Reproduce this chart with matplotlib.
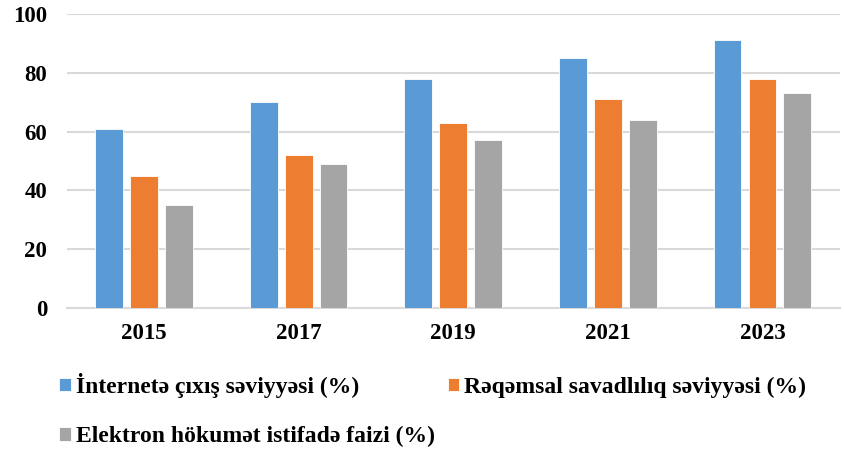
import matplotlib.pyplot as plt
import numpy as np

years = ["2015", "2017", "2019", "2021", "2023"]
internet = [61, 70, 78, 85, 91]
digital_literacy = [45, 52, 63, 71, 78]
egov = [35, 49, 57, 64, 73]
series_names = [
    "İnternetə çıxış səviyyəsi (%)",
    "Rəqəmsal savadlılıq səviyyəsi (%)",
    "Elektron hökumət istifadə faizi (%)",
]
COLORS = ["#5B9BD5", "#ED7D31", "#A5A5A5"]
GRID = "#D9D9D9"

plt.rcParams["font.family"] = ["Liberation Serif", "DejaVu Serif"]
plt.rcParams["font.weight"] = "bold"

fig = plt.figure(figsize=(8.44, 4.49), dpi=100)
ax = fig.add_axes([0.079, 0.314, 0.916, 0.655])

x = np.arange(len(years))
w = 0.18
step = 0.226
handles = []
for k, (vals, c) in enumerate(zip([internet, digital_literacy, egov], COLORS)):
    b = ax.bar(x + (k - 1) * step, vals, width=w, color=c,
               edgecolor="white", linewidth=0.6, zorder=3)
    handles.append(b)

ax.set_xlim(-0.5, len(years) - 0.5)
ax.set_ylim(0, 100)
ax.set_yticks(range(0, 101, 20))
ax.set_xticks(x)
ax.set_xticklabels(years)
ax.tick_params(axis="both", length=0, labelsize=16.5)
ax.tick_params(axis="x", pad=11)
ax.tick_params(axis="y", pad=14)
for lbl in ax.get_xticklabels() + ax.get_yticklabels():
    lbl.set_fontweight("bold")
ax.grid(axis="y", color=GRID, linewidth=1.5, zorder=0)
for s in ["top", "right", "left"]:
    ax.spines[s].set_visible(False)
ax.spines["bottom"].set_color(GRID)
ax.spines["bottom"].set_linewidth(1.5)

# row-major order: entries 1 and 2 on the first line, entry 3 below
order = [0, 2, 1]
leg = fig.legend([handles[i] for i in order], [series_names[i] for i in order],
                 ncol=2, loc="upper left", bbox_to_anchor=(0.0699, 0.170),
                 frameon=False, borderpad=0, borderaxespad=0,
                 handlelength=0.5, handleheight=0.5,
                 handletextpad=0.2, columnspacing=0.55, labelspacing=1.2,
                 prop={"weight": "bold", "size": 17})

fig.savefig("out.png", dpi=100, facecolor="white")
